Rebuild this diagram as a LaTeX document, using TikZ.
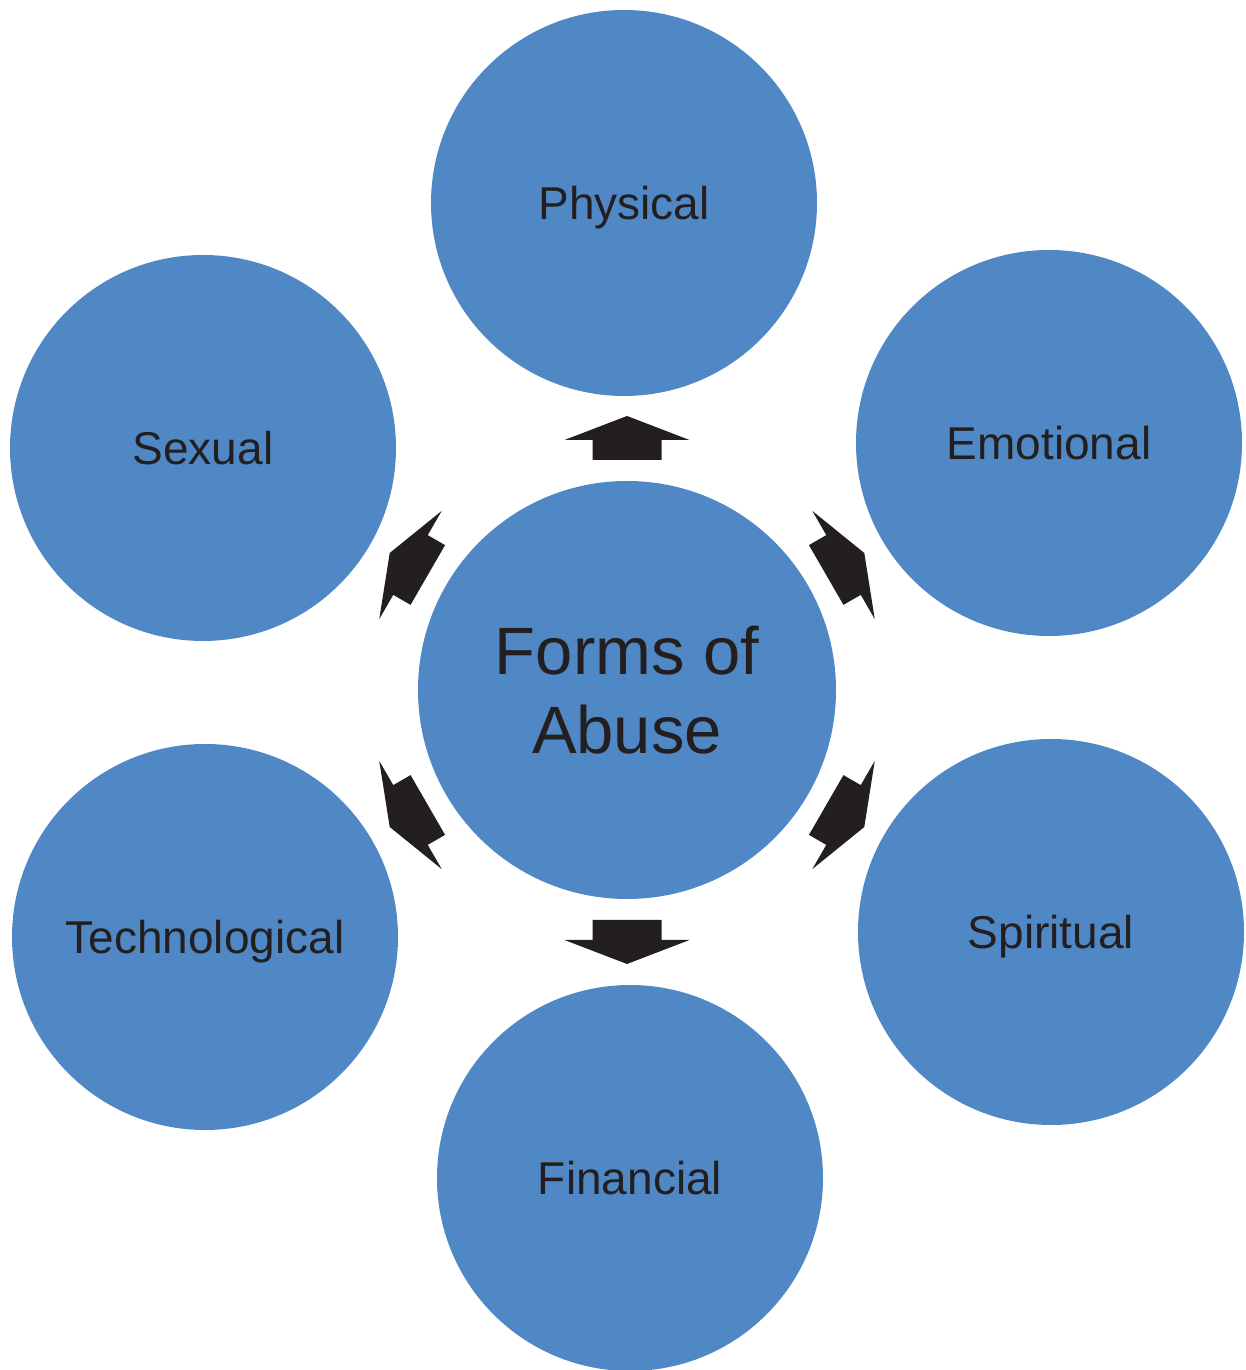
\documentclass[tikz,border=0pt]{standalone}
\usepackage{fontspec}
\setmainfont{Liberation Sans}
\usetikzlibrary{calc}
\definecolor{circblue}{RGB}{79,136,197}
\definecolor{darkink}{RGB}{35,31,32}
\tikzset{
  outer/.style={circle, fill=circblue, minimum size=386pt, inner sep=0pt,
    text=darkink, font=\fontsize{46}{53}\selectfont, text height=33pt, text depth=0pt},
  hub/.style={circle, fill=circblue, minimum size=418pt, inner sep=0pt,
    text=darkink, font=\fontsize{67}{79}\selectfont, align=center},
  blockarrow/.style={fill=darkink, draw=none}
}
\begin{document}
\begin{tikzpicture}[x=1pt,y=1pt]
\useasboundingbox (0,0) rectangle (1245,1370);
% image y -> 1370 - y
\node[hub] (c) at (627,680) {Forms of\\Abuse};
\node[outer] (phy) at (624,1167) {Physical};
\node[outer] (emo) at (1049,927) {Emotional};
\node[outer] (spi) at (1051,438) {Spiritual};
\node[outer] (fin) at (630,192) {Financial};
\node[outer] (tec) at (205,433) {Technological};
\node[outer] (sex) at (203,922) {Sexual};
\foreach \ang/\tgt in {90/phy,30/emo,-30/spi,-90/fin,210/tec,150/sex}{
  \coordinate (a-\tgt) at ($(c.center)+(\ang:250)$);
  \fill[blockarrow, shift={(a-\tgt)}, rotate=\ang]
    (-20,-34.5) -- (0,-34.5) -- (0,-62.5) -- (24,0) -- (0,62.5) -- (0,34.5) -- (-20,34.5) -- cycle;
}
\end{tikzpicture}
\end{document}
